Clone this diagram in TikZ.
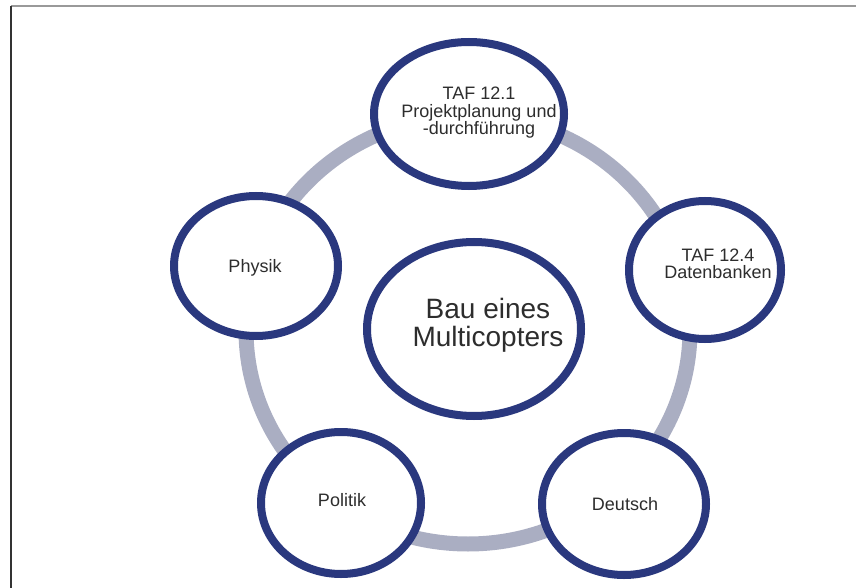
\documentclass[tikz,border=0pt]{standalone}
\usepackage{fontspec}
\setmainfont{Liberation Sans}
\usetikzlibrary{shapes.geometric}
\definecolor{navy}{RGB}{42,56,126}
\definecolor{ringgray}{RGB}{170,174,194}
\definecolor{txt}{RGB}{45,45,45}
\begin{document}
\begin{tikzpicture}[x=1pt,y=-1pt,
  bubble/.style={ellipse,draw=navy,line width=8pt,fill=white,inner sep=0pt},
  lbl/.style={text=txt,font=\fontsize{18}{17.5}\selectfont,align=center,inner sep=0pt},
  biglbl/.style={text=txt,font=\fontsize{28}{28}\selectfont,align=center,inner sep=0pt}]
\useasboundingbox (0,0) rectangle (856,588);
\fill[white] (0,0) rectangle (856,588);
% frame
\coordinate (fTL) at (11,6);
\coordinate (fTR) at (856,6);
\coordinate (fBL) at (11,588);
\draw[line width=2pt,gray!80] (fTL) -- (fTR);
\draw[line width=2pt,black!80] (fTL) -- (fBL);
% ring
\node[ellipse,draw=ringgray,line width=15pt,minimum width=444pt,minimum height=428pt,inner sep=0pt] (ring) at (468,330) {};
% bubbles
\node[bubble,minimum width=214pt,minimum height=174pt] (center) at (474,329) {};
\node[bubble,minimum width=190pt,minimum height=144pt] (top) at (469,114) {};
\node[bubble,minimum width=152pt,minimum height=138pt] (right) at (705,270) {};
\node[bubble,minimum width=164pt,minimum height=142pt] (deutsch) at (624,504) {};
\node[bubble,minimum width=160pt,minimum height=142pt] (politik) at (341,503) {};
\node[bubble,minimum width=164pt,minimum height=140pt] (physik) at (256,266) {};
% labels
\node[biglbl] (centerlbl) at (488,325) {Bau eines\\Multicopters};
\node[lbl] (toplbl) at (479,113) {TAF 12.1\\Projektplanung und\\-durchführung};
\node[lbl] (rightlbl) at (718,264) {TAF 12.4\\Datenbanken};
\node[lbl] (deutschlbl) at (625,504) {Deutsch};
\node[lbl] (politiklbl) at (342,500) {Politik};
\node[lbl] (physiklbl) at (255,268) {Physik};
\end{tikzpicture}
\end{document}
